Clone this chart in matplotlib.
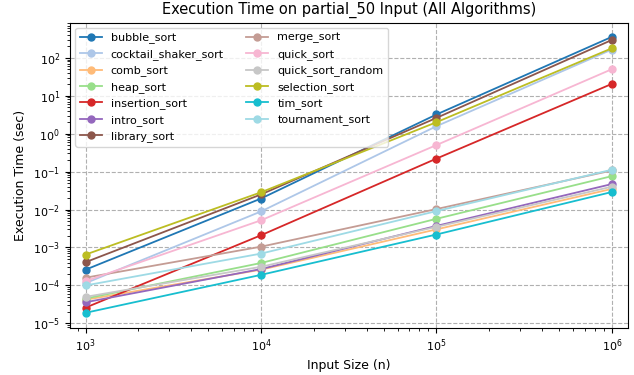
import matplotlib
matplotlib.use("Agg")
import matplotlib.pyplot as plt
import numpy as np

sizes = [1000, 10000, 100000, 1000000]
algorithms = ["bubble_sort", "cocktail_shaker_sort", "comb_sort", "heap_sort", "insertion_sort",
              "intro_sort", "library_sort", "merge_sort", "quick_sort", "quick_sort_random",
              "selection_sort", "tim_sort", "tournament_sort"]

bubble_sort = [2.6e-4, 0.0195, 3.2, 356]
cocktail_shaker_sort = [1.15e-4, 0.0089, 1.57, 165]
comb_sort = [4.2e-5, 2.6e-4, 3.0e-3, 0.035]
heap_sort = [4.5e-5, 3.9e-4, 5.7e-3, 0.076]
insertion_sort = [2.6e-5, 2.1e-3, 0.22, 20.5]
intro_sort = [3.6e-5, 2.7e-4, 3.7e-3, 0.047]
library_sort = [4.1e-4, 0.025, 2.6, 295]
merge_sort = [1.6e-4, 1.05e-3, 0.0103, 0.107]
quick_sort = [1.3e-4, 5.2e-3, 0.50, 50]
quick_sort_random = [5.0e-5, 3.1e-4, 3.5e-3, 0.040]
selection_sort = [6.5e-4, 0.0285, 2.0, 178]
tim_sort = [1.9e-5, 1.9e-4, 2.2e-3, 0.029]
tournament_sort = [1.0e-4, 6.9e-4, 9.1e-3, 0.112]

series = [bubble_sort, cocktail_shaker_sort, comb_sort, heap_sort, insertion_sort,
          intro_sort, library_sort, merge_sort, quick_sort, quick_sort_random,
          selection_sort, tim_sort, tournament_sort]

fig, ax = plt.subplots(figsize=(6.34, 3.75), dpi=100)
colors = plt.cm.tab20(np.linspace(0, 1, len(algorithms)))
for name, vals, c in zip(algorithms, series, colors):
    ax.plot(sizes, vals, marker="o", markersize=5, linewidth=1.3, color=c, label=name)

ax.set_xscale("log")
ax.set_yscale("log")
ax.margins(x=0.03)
ax.set_ylim(7.5e-6, 850)
ax.set_title("Execution Time on partial_50 Input (All Algorithms)", fontsize=10.5)
ax.set_xlabel("Input Size (n)", fontsize=9, labelpad=3)
ax.set_ylabel("Execution Time (sec)", fontsize=9)
ax.tick_params(labelsize=8)
ax.grid(True, which="major", linestyle="--", color="#b0b0b0", linewidth=0.8)
ax.legend(ncol=2, fontsize=8, loc="upper left", framealpha=0.8)
fig.subplots_adjust(left=0.11, right=0.99, top=0.94, bottom=0.125)
fig.savefig("out.png", dpi=100)
